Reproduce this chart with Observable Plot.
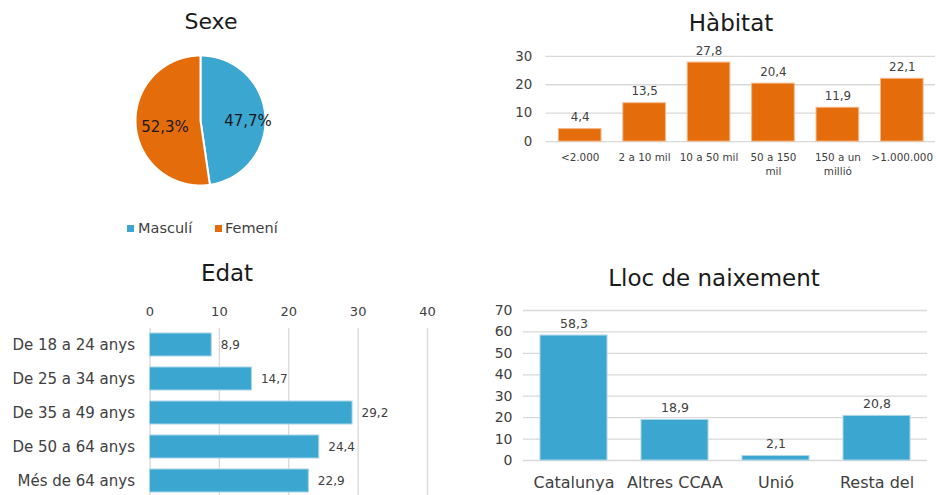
<!DOCTYPE html>
<html><head><meta charset="utf-8">
<script src="https://cdn.jsdelivr.net/npm/d3@7"></script>
<script src="https://cdn.jsdelivr.net/npm/@observablehq/plot@0.6"></script>
<style>
body{margin:0;background:#fff;}
#root{position:relative;width:936px;height:495px;overflow:hidden;font-family:"DejaVu Sans",sans-serif;color:#404040;background:#fff;}
.panel{position:absolute;}
.panel svg{display:block;}
.title{position:absolute;transform:translateX(-50%);white-space:nowrap;color:#1a1a1a;font-size:23px;line-height:23px;}
.leg{position:absolute;font-size:14.5px;line-height:15px;color:#404040;white-space:nowrap;}
.sw{position:absolute;width:7px;height:7px;}
</style></head><body><div id="root"></div>
<script>
// ---- data ----
const sexeCats = ["Masculí", "Femení"];
const sexeValues = [47.7, 52.3];

const habitatCats = ["<2.000", "2 a 10 mil", "10 a 50 mil", "50 a 150\nmil", "150 a un\nmillió", ">1.000.000"];
const habitatValues = [4.4, 13.5, 27.8, 20.4, 11.9, 22.1];
const habitatTicks = [0, 10, 20, 30];

const edatCats = ["De 18 a 24 anys", "De 25 a 34 anys", "De 35 a 49 anys", "De 50 a 64 anys", "Més de 64 anys"];
const edatValues = [8.9, 14.7, 29.2, 24.4, 22.9];
const edatTicks = [0, 10, 20, 30, 40];

const llocCats = ["Catalunya", "Altres CCAA", "Unió\nEuropea", "Resta del\nmón"];
const llocValues = [58.3, 18.9, 2.1, 20.8];
const llocTicks = [0, 10, 20, 30, 40, 50, 60, 70];

const BLUE = "#3BA6CF", ORANGE = "#E46C0A";
const BLUE_EDGE = "#a8d6ea", ORANGE_EDGE = "#f3b78a";
const GRID = "#d9d9d9";
const FONT = "DejaVu Sans";
const fmt = v => v.toFixed(1).replace(".", ",");

const root = document.getElementById("root");
function place(el, left, top) {
  const d = document.createElement("div");
  d.className = "panel";
  d.style.left = left + "px";
  d.style.top = top + "px";
  d.appendChild(el);
  root.appendChild(d);
}
function title(text, cx, top, size) {
  const t = document.createElement("div");
  t.className = "title";
  t.textContent = text;
  t.style.left = cx + "px";
  t.style.top = top + "px";
  if (size) { t.style.fontSize = size + "px"; t.style.lineHeight = size + "px"; }
  root.appendChild(t);
}
const baseStyle = {fontFamily: FONT, fontSize: "12px", color: "#404040", background: "transparent", overflow: "visible"};

// ---- Sexe (pie) ----
const arcs = d3.pie().sort(null)(sexeValues);
const piePts = arcs.map((a, i) => {
  const pts = [{cat: sexeCats[i], x: 0, y: 0}];
  const n = Math.max(2, Math.ceil((a.endAngle - a.startAngle) / 0.01));
  for (let k = 0; k <= n; k++) {
    const t = a.startAngle + (a.endAngle - a.startAngle) * k / n;
    pts.push({cat: sexeCats[i], x: Math.sin(t), y: Math.cos(t)});
  }
  return pts;
});
const pieLabels = arcs.map((a, i) => {
  const m = (a.startAngle + a.endAngle) / 2;
  return {x: 0.64 * Math.sin(m), y: 0.64 * Math.cos(m) - 0.06, text: fmt(sexeValues[i]) + "%"};
});
const pieColors = [BLUE, ORANGE];
const pie = Plot.plot({
  width: 140, height: 140, margin: 5,
  x: {domain: [-1, 1], axis: null},
  y: {domain: [-1, 1], axis: null},
  style: baseStyle,
  marks: [
    ...piePts.map((pts, i) => Plot.line(pts, {x: "x", y: "y", fill: pieColors[i], stroke: "white", strokeWidth: 2, curve: "linear-closed"})),
    Plot.text(pieLabels, {x: "x", y: "y", text: "text", fontSize: 15, fill: "#1a1a1a", dx: 6})
  ]
});
place(pie, 130, 50);
title("Sexe", 211, 11, 22);
// legend
[[sexeCats[0], BLUE, 127, 138], [sexeCats[1], ORANGE, 215, 225]].forEach(([lab, col, sx, tx]) => {
  const s = document.createElement("div"); s.className = "sw"; s.style.background = col; s.style.left = sx + "px"; s.style.top = "225px"; root.appendChild(s);
  const t = document.createElement("div"); t.className = "leg"; t.textContent = lab; t.style.left = tx + "px"; t.style.top = "221px"; root.appendChild(t);
});

// ---- Hàbitat ----
const habitatData = habitatCats.map((c, i) => ({c, v: habitatValues[i]}));
const habitat = Plot.plot({
  width: 450, height: 150,
  marginLeft: 56, marginRight: 1, marginTop: 16, marginBottom: 48,
  x: {domain: habitatCats, paddingInner: 0.34, paddingOuter: 0.17, axis: null},
  y: {domain: [0, 30], axis: null},
  style: baseStyle,
  marks: [
    Plot.ruleY(habitatTicks, {y: d => d, stroke: GRID, strokeWidth: 1.3}),
    Plot.barY(habitatData, {x: "c", y: "v", fill: ORANGE, stroke: ORANGE_EDGE, strokeWidth: 1}),
    Plot.text(habitatData, {x: "c", y: "v", text: d => fmt(d.v), lineAnchor: "bottom", dy: -8, fontSize: 12}),
    Plot.text(habitatTicks, {y: d => d, frameAnchor: "left", textAnchor: "end", dx: -14, fontSize: 13.5}),
    Plot.text(habitatCats, {x: d => d, frameAnchor: "bottom", lineAnchor: "top", dy: 9, fontSize: 10.5, lineHeight: 1.4})
  ]
});
place(habitat, 490, 40);
title("Hàbitat", 731, 12);

// ---- Edat ----
const edatData = edatCats.map((c, i) => ({c, v: edatValues[i]}));
const edat = Plot.plot({
  width: 460, height: 208,
  marginLeft: 149.5, marginRight: 33, marginTop: 38, marginBottom: 0,
  x: {domain: [0, 40], axis: null},
  y: {domain: edatCats, paddingInner: 0.32, paddingOuter: 0.16, axis: null},
  style: baseStyle,
  marks: [
    Plot.ruleX(edatTicks, {x: d => d, stroke: GRID, strokeWidth: 1.3}),
    Plot.barX(edatData, {y: "c", x: "v", fill: BLUE, stroke: BLUE_EDGE, strokeWidth: 1}),
    Plot.text(edatData, {y: "c", x: "v", text: d => fmt(d.v), textAnchor: "start", dx: 9, fontSize: 12}),
    Plot.text(edatTicks, {x: d => d, frameAnchor: "top", lineAnchor: "bottom", dy: -13, fontSize: 13}),
    Plot.text(edatCats, {y: d => d, frameAnchor: "left", textAnchor: "end", dx: -15, fontSize: 15})
  ]
});
place(edat, 0, 290);
title("Edat", 227, 262);

// ---- Lloc de naixement ----
const llocData = llocCats.map((c, i) => ({c, v: llocValues[i]}));
const lloc = Plot.plot({
  width: 456, height: 200,
  marginLeft: 43, marginRight: 9, marginTop: 10, marginBottom: 40,
  x: {domain: llocCats, paddingInner: 0.34, paddingOuter: 0.17, axis: null},
  y: {domain: [0, 70], axis: null},
  style: baseStyle,
  marks: [
    Plot.ruleY(llocTicks, {y: d => d, stroke: GRID, strokeWidth: 1.3}),
    Plot.barY(llocData, {x: "c", y: "v", fill: BLUE, stroke: BLUE_EDGE, strokeWidth: 1}),
    Plot.text(llocData, {x: "c", y: "v", text: d => fmt(d.v), lineAnchor: "bottom", dy: -8, fontSize: 12.5}),
    Plot.text(llocTicks, {y: d => d, frameAnchor: "left", textAnchor: "end", dx: -11, fontSize: 14}),
    Plot.text(llocCats, {x: d => d, frameAnchor: "bottom", lineAnchor: "top", dy: 13, fontSize: 16, lineHeight: 1.3})
  ]
});
place(lloc, 480, 300);
title("Lloc de naixement", 714, 267);
</script>
</body></html>
